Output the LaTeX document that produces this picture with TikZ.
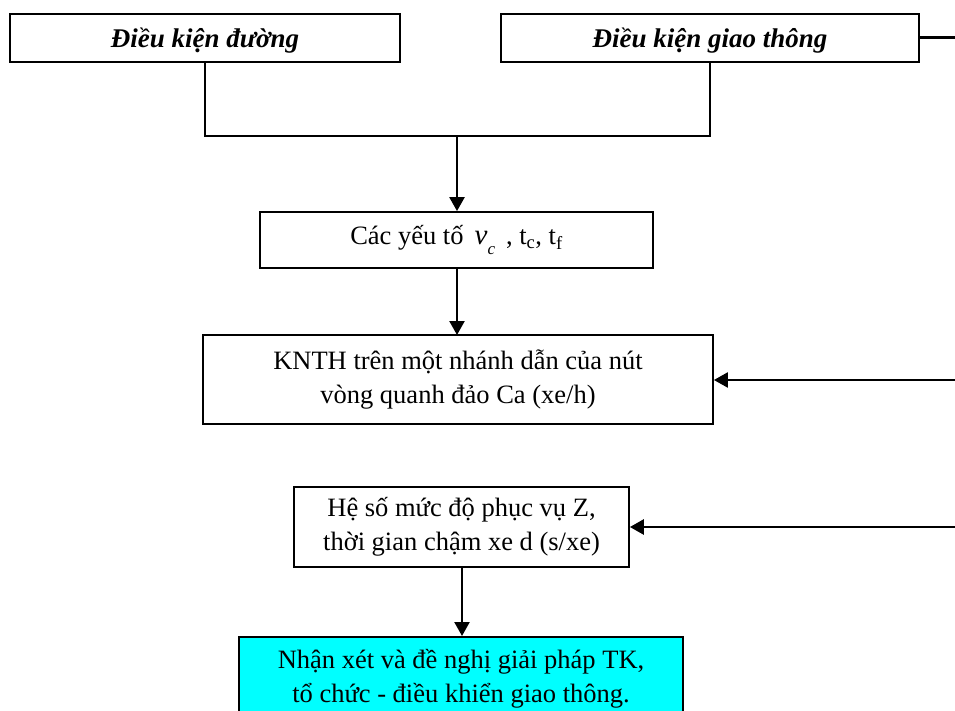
\documentclass[tikz,border=0pt]{standalone}
\usepackage{fontspec}
\setmainfont{Liberation Serif}
\usetikzlibrary{arrows.meta}
\definecolor{aquafill}{RGB}{0,255,255}
\tikzset{
  box/.style={draw=black, line width=1.8pt, fill=white, inner sep=0pt, align=center,
    font=\fontsize{26.5}{33.5}\selectfont},
  topbox/.style={box, text depth=0pt, font=\fontsize{27}{33}\selectfont\bfseries\itshape},
  conn/.style={draw=black, line width=2.4pt},
  arr/.style={conn, -{Triangle[length=14pt,width=15pt]}},
}
\begin{document}
\begin{tikzpicture}[x=1pt,y=-1pt]
\clip (0,0) rectangle (955,711);
\fill[white] (0,0) rectangle (955,711);
% boxes
\node[topbox, minimum width=390pt, minimum height=48pt] (b1) at (205,38) {Điều kiện đường};
\node[topbox, minimum width=418pt, minimum height=48pt] (b2) at (710,38) {Điều kiện giao thông};
\node[box, minimum width=393pt, minimum height=56pt] (b3) at (456.5,240)
  {Các yếu tố \,{\itshape\fontsize{29}{29}\selectfont ν}\raisebox{-0.35em}{\itshape\fontsize{17}{17}\selectfont c}\, , t\textsubscript{c}, t\textsubscript{f}};
\node[box, minimum width=510pt, minimum height=89pt] (b4) at (458,379.5)
  {KNTH trên một nhánh dẫn của nút\\vòng quanh đảo Ca (xe/h)};
\node[box, minimum width=335pt, minimum height=80pt] (b5) at (461.5,527)
  {Hệ số mức độ phục vụ Z,\\thời gian chậm xe d (s/xe)};
\node[box, fill=aquafill, minimum width=444pt, minimum height=84pt, anchor=north] (b6) at (461,636)
  {Nhận xét và đề nghị giải pháp TK,\\tổ chức - điều khiển giao thông.};
% coordinates
\coordinate (j) at (457,136);
\coordinate (r1) at (955,38);
\coordinate (r2) at (955,380);
\coordinate (r3) at (955,527);
% connectors
\draw[conn] (b1.south) |- (j);
\draw[conn] (b2.south) |- (j);
\draw[arr] (j) -- (j |- b3.north);
\draw[arr] (457,268) -- (457,335);
\draw[conn, line width=3pt] (b2.east) -- (r1);
\draw[arr] (r2) -- (b4.east |- r2);
\draw[arr, line width=2.8pt] (r3) -- (b5.east);
\draw[arr] (462,567) -- (462,636);
\end{tikzpicture}
\end{document}
